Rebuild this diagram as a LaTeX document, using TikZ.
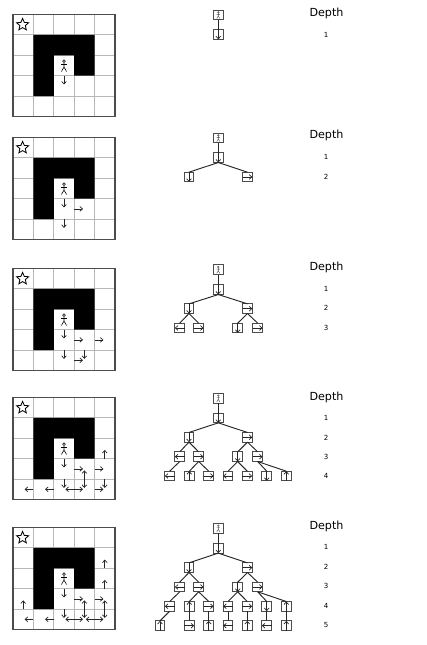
\documentclass[tikz,border=0pt]{standalone}
\usepackage{fontspec}
\setmainfont{DejaVu Sans}
\usetikzlibrary{shapes.geometric,arrows.meta}

\definecolor{cellgray}{gray}{0.72}
\definecolor{framegray}{gray}{0.3}

\tikzset{
  >={Straight Barb[length=2.2pt,width=4pt]},
  stickman/.pic={
    \draw (0,-4.4) circle[radius=1.4];
    \draw (0,-3) -- (0,1.6) (-2.8,-1) -- (2.8,-1) (-2.6,6) -- (0,1.6) -- (2.6,6);
  },
  panel/.style={shift={(13,#1)}, x=0.612cm, y=-0.612cm},
  walk/.style={->, line width=0.6pt, black!85},
  treebox/.style={draw=framegray, line width=0.9pt, minimum size=0.29cm, inner sep=0pt, outer sep=0pt},
  boxman/.style={treebox},
  boxdown/.style={treebox, append after command={(\tikzlastnode.north) edge[walk] (\tikzlastnode.south)}},
  boxup/.style={treebox, append after command={(\tikzlastnode.south) edge[walk] (\tikzlastnode.north)}},
  boxleft/.style={treebox, append after command={(\tikzlastnode.east) edge[walk] (\tikzlastnode.west)}},
  boxright/.style={treebox, append after command={(\tikzlastnode.west) edge[walk] (\tikzlastnode.east)}},
  treeedge/.style={line width=0.8pt, black!85},
  depthhead/.style={font=\fontsize{9.5}{11}\selectfont},
  depthnum/.style={font=\fontsize{6}{7}\selectfont}
}

% one step of the search, col and row of the cell
\newcommand{\stepdown}[2]{\draw[walk] (#1+.5,#2) -- ++(0,.43);}
\newcommand{\stepup}[2]{\draw[walk] (#1+.5,#2+1) -- ++(0,-.43);}
\newcommand{\stepleft}[2]{\draw[walk] (#1+1,#2+.5) -- ++(-.43,0);}
\newcommand{\stepright}[2]{\draw[walk] (#1,#2+.5) -- ++(.43,0);}

\begin{document}
\begin{tikzpicture}[x=0.03cm, y=-0.03cm]
  \useasboundingbox (0,0) rectangle (427,645);

  % the five mazes
  \foreach \top in {14.5,137.5,268.5,397.5,527.5} {
    \begin{scope}[panel=\top]
      \foreach \i in {1,...,4} {
        \draw[cellgray, line width=0.7pt] (\i,0) -- (\i,5);
        \draw[cellgray, line width=0.7pt] (0,\i) -- (5,\i);
      }
      \fill[black] (1,1) -- (4,1) -- (4,3) -- (3,3) -- (3,2) -- (2,2) -- (2,4) -- (1,4) -- cycle;
      \draw[framegray, line width=1pt] (0,0) rectangle (5,5);
      \node (star) at (0.47,0.5) [star, star points=5, star point ratio=2.2, draw, line width=0.7pt, minimum size=0.38cm, inner sep=0pt] {};
      \coordinate (manspot) at (2.5,2.5);
      \pic[line width=0.5pt, x=0.03cm, y=-0.03cm] at (manspot) {stickman};
      \stepdown{2}{3}
    \end{scope}
  }
  \begin{scope}[panel=137.5]
    \stepright{3}{3} \stepdown{2}{4}
  \end{scope}
  \begin{scope}[panel=268.5]
    \stepright{3}{3} \stepright{4}{3} \stepdown{2}{4} \stepright{3}{4} \stepdown{3}{4}
  \end{scope}
  \begin{scope}[panel=397.5]
    \stepup{4}{2} \stepright{3}{3} \stepup{3}{3} \stepright{4}{3}
    \stepdown{2}{4} \stepdown{3}{4} \stepdown{4}{4} \stepright{3}{4} \stepright{4}{4}
    \stepleft{2}{4} \stepleft{1}{4} \stepleft{0}{4}
  \end{scope}
  \begin{scope}[panel=527.5]
    \stepup{4}{1} \stepup{4}{2} \stepright{3}{3} \stepup{3}{3} \stepright{4}{3} \stepup{4}{3} \stepup{0}{3}
    \stepdown{2}{4} \stepdown{3}{4} \stepdown{4}{4} \stepright{3}{4} \stepright{4}{4}
    \stepleft{2}{4} \stepleft{3}{4} \stepleft{1}{4} \stepleft{0}{4}
  \end{scope}

  % tree 1
  \node (ar) at (218.3,15) [boxman] {};
  \node (aa) at (218.3,34.5) [boxdown] {};
  \draw[treeedge] (ar.south) -- (aa.north);

  % tree 2
  \node (br) at (218.3,138) [boxman] {};
  \node (ba) at (218.3,157.7) [boxdown] {};
  \node (bb) at (189,177) [boxdown] {};
  \node (bc) at (247.5,177) [boxright] {};
  \draw[treeedge] (br.south) -- (ba.north);
  \foreach \kid in {bb,bc} \draw[treeedge] (ba.south) -- (\kid.north);

  % tree 3
  \node (cr) at (218.3,269.7) [boxman] {};
  \node (ca) at (218.3,289.7) [boxdown] {};
  \node (cb) at (189,308.7) [boxdown] {};
  \node (cc) at (247.5,308.7) [boxright] {};
  \node (cd) at (179.7,328) [boxleft] {};
  \node (ce) at (198.7,328) [boxright] {};
  \node (cf) at (237.7,328) [boxdown] {};
  \node (cg) at (257.7,328) [boxright] {};
  \draw[treeedge] (cr.south) -- (ca.north);
  \foreach \up/\kid in {ca/cb,ca/cc,cb/cd,cb/ce,cc/cf,cc/cg} \draw[treeedge] (\up.south) -- (\kid.north);

  % tree 4
  \node (dr) at (218.3,398.3) [boxman] {};
  \node (da) at (218.3,418) [boxdown] {};
  \node (db) at (189,437.3) [boxdown] {};
  \node (dc) at (247.5,437.3) [boxright] {};
  \node (dd) at (179.7,456.7) [boxleft] {};
  \node (de) at (198.7,456.7) [boxright] {};
  \node (df) at (237.7,456.7) [boxdown] {};
  \node (dg) at (257.7,456.7) [boxright] {};
  \node (dh) at (169.7,476) [boxleft] {};
  \node (di) at (189.3,476) [boxup] {};
  \node (dj) at (208.7,476) [boxright] {};
  \node (dk) at (228,476) [boxleft] {};
  \node (dl) at (247.3,476) [boxright] {};
  \node (dm) at (266.7,476) [boxdown] {};
  \node (dn) at (286.3,476) [boxup] {};
  \draw[treeedge] (dr.south) -- (da.north);
  \foreach \up/\kid in {da/db,da/dc,db/dd,db/de,dc/df,dc/dg,dd/dh,de/di,de/dj,df/dk,df/dl,dg/dm,dg/dn}
    \draw[treeedge] (\up.south) -- (\kid.north);

  % tree 5
  \node (er) at (218.3,528.3) [boxman] {};
  \node (ea) at (218.3,548.3) [boxdown] {};
  \node (eb) at (189,567.7) [boxdown] {};
  \node (ec) at (247.5,567.7) [boxright] {};
  \node (ed) at (179.7,587) [boxleft] {};
  \node (ee) at (198.7,587) [boxright] {};
  \node (ef) at (237.7,587) [boxdown] {};
  \node (eg) at (257.7,587) [boxright] {};
  \node (eh) at (169.7,606.3) [boxleft] {};
  \node (ei) at (189.3,606.3) [boxup] {};
  \node (ej) at (208.7,606.3) [boxright] {};
  \node (ek) at (228,606.3) [boxleft] {};
  \node (el) at (247.3,606.3) [boxright] {};
  \node (em) at (266.7,606.3) [boxdown] {};
  \node (en) at (286.3,606.3) [boxup] {};
  \node (eo) at (160,625.7) [boxup] {};
  \node (ep) at (189.3,625.7) [boxright] {};
  \node (eq) at (208.7,625.7) [boxup] {};
  \node (es) at (228,625.7) [boxleft] {};
  \node (et) at (247.3,625.7) [boxup] {};
  \node (eu) at (266.7,625.7) [boxleft] {};
  \node (ev) at (286.3,625.7) [boxup] {};
  \draw[treeedge] (er.south) -- (ea.north);
  \foreach \up/\kid in {ea/eb,ea/ec,eb/ed,eb/ee,ec/ef,ec/eg,ed/eh,ee/ei,ee/ej,ef/ek,ef/el,eg/em,eg/en,
                        eh/eo,ei/ep,ej/eq,ek/es,el/et,em/eu,en/ev}
    \draw[treeedge] (\up.south) -- (\kid.north);

  % people in the root boxes
  \foreach \man in {ar,br,cr,dr,er}
    \pic[framegray, line width=0.35pt, scale=0.6] at (\man) {stickman};

  % depth columns
  \foreach \head in {13.5,135.5,267.5,397,526}
    \node (dh\head) at (326.5,\head) [depthhead] {Depth};
  \foreach \y/\n in {35/1, 157/1,177/2, 289/1,308/2,328/3, 418/1,438/2,457/3,476/4, 547/1,567/2,586/3,606/4,625/5}
    \node (dn\y) at (326,\y) [depthnum] {\n};
\end{tikzpicture}
\end{document}
